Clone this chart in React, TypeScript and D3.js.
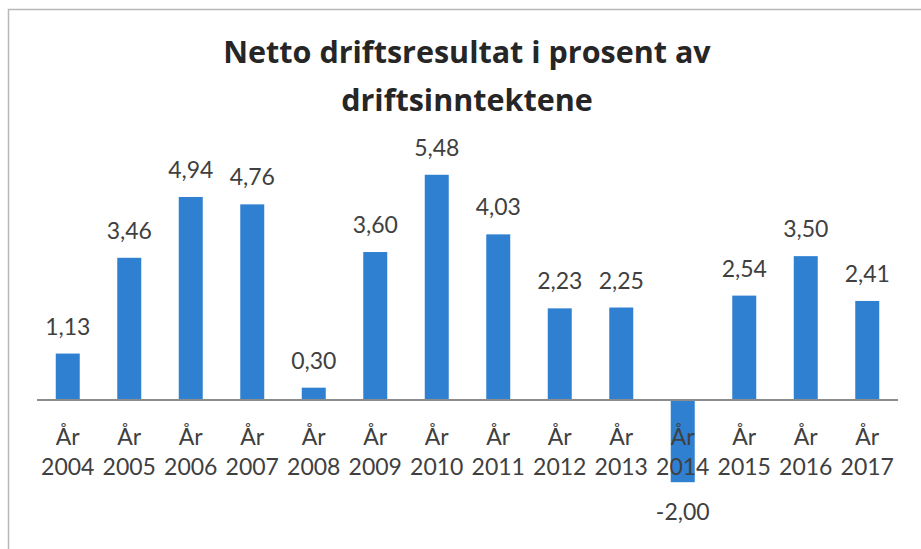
import * as React from "react";
import * as d3 from "d3";

const years = ["2004", "2005", "2006", "2007", "2008", "2009", "2010", "2011", "2012", "2013", "2014", "2015", "2016", "2017"];
const values = [1.13, 3.46, 4.94, 4.76, 0.3, 3.6, 5.48, 4.03, 2.23, 2.25, -2.0, 2.54, 3.5, 2.41];
const titleLines = ["Netto driftsresultat i prosent av", "driftsinntektene"];

const W = 921,
  H = 549;
const FONT = "Lato, 'Open Sans', sans-serif";
const TEXT = "#404040";
const BAR = "#2f80d0";

export default function App() {
  const x = d3.scaleBand<string>().domain(years).range([37, 898]).paddingInner(0.61).paddingOuter(0.305);
  const y = d3.scaleLinear().domain([-3, 6]).range([523.3, 153.4]);
  const fmt = (v: number) => v.toFixed(2).replace(".", ",");

  return (
    <div style={{ position: "fixed", left: 0, top: 0 }}>
      <svg width={W} height={H} style={{ display: "block", background: "#fff" }}>
        <rect x={8.5} y={9.5} width={W + 10} height={H + 10} fill="none" stroke="#b8b8b8" strokeWidth={1.5} />
        {titleLines.map((t, i) => (
          <text
            key={t}
            x={467}
            y={63 + i * 48}
            textAnchor="middle"
            fontFamily="'Open Sans', Lato, sans-serif"
            fontWeight="bold"
            fontSize={30.5}
            fill="#262626"
          >
            {t}
          </text>
        ))}
        {values.map((v, i) => {
          const bx = x(years[i])!;
          const top = y(Math.max(0, v));
          const bot = y(Math.min(0, v));
          return (
            <rect key={years[i]} x={bx} y={top} width={x.bandwidth()} height={bot - top} fill={BAR} />
          );
        })}
        <line x1={37} x2={898} y1={y(0)} y2={y(0)} stroke="#8c8c8c" strokeWidth={2} />
        {years.map((yr, i) => {
          const cx = x(yr)! + x.bandwidth() / 2;
          return (
            <g key={"l" + yr} fontFamily={FONT} fontSize={23} fill={TEXT} textAnchor="middle">
              <text x={cx} y={445}>År</text>
              <text x={cx} y={475}>{yr}</text>
            </g>
          );
        })}
        {values.map((v, i) => {
          const cx = x(years[i])! + x.bandwidth() / 2;
          const ly = v >= 0 ? y(v) - 19 : y(v) + 38;
          return (
            <text key={"v" + i} x={cx} y={ly} textAnchor="middle" fontFamily={FONT} fontSize={23} fill={TEXT}>
              {fmt(v)}
            </text>
          );
        })}
      </svg>
    </div>
  );
}
